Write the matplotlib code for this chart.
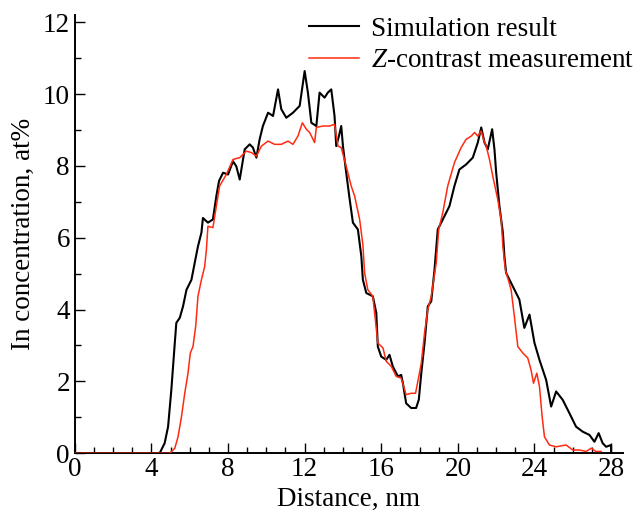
import matplotlib
matplotlib.use("Agg")
import matplotlib.pyplot as plt
from matplotlib.ticker import MultipleLocator

plt.rcParams['font.family'] = ['Liberation Serif', 'DejaVu Serif']
plt.rcParams['mathtext.fontset'] = 'custom'
plt.rcParams['mathtext.rm'] = 'Liberation Serif'
plt.rcParams['mathtext.it'] = 'Liberation Serif:italic'

# simulation result (black)
sim_x = [0.0, 4.43, 4.69, 4.87, 5.04, 5.13, 5.22, 5.30, 5.48, 5.65, 5.83, 6.09, 6.26, 6.43,
         6.61, 6.69, 6.95, 7.21, 7.39, 7.53, 7.74, 8.0, 8.26, 8.43, 8.61, 8.87, 9.13, 9.30,
         9.48, 9.65, 9.82, 10.09, 10.35, 10.61, 10.78, 11.04, 11.39, 11.74, 12.0, 12.17,
         12.35, 12.61, 12.78, 13.04, 13.21, 13.39, 13.56, 13.65, 13.79, 13.91, 14.0, 14.17,
         14.35, 14.52, 14.78, 14.96, 15.04, 15.22, 15.56, 15.74, 15.82, 16.0, 16.26, 16.43,
         16.6, 16.87, 17.04, 17.13, 17.30, 17.56, 17.82, 17.96, 18.09, 18.26, 18.43, 18.61,
         18.78, 18.95, 19.30, 19.56, 19.82, 20.08, 20.43, 20.78, 21.04, 21.22, 21.39, 21.56,
         21.79, 21.91, 22.0, 22.17, 22.35, 22.43, 22.52, 22.78, 23.21, 23.47, 23.74, 24.0,
         24.26, 24.61, 24.87, 25.13, 25.47, 25.82, 26.17, 26.52, 26.87, 27.13, 27.35, 27.56,
         27.74, 28.0, 28.0]
sim_y = [0.0, 0.0, 0.28, 0.74, 1.77, 2.42, 3.07, 3.63, 3.77, 4.09, 4.55, 4.83, 5.30, 5.76,
         6.14, 6.55, 6.42, 6.51, 7.16, 7.58, 7.81, 7.76, 8.13, 7.99, 7.62, 8.46, 8.60, 8.51,
         8.23, 8.74, 9.11, 9.48, 9.39, 10.13, 9.58, 9.34, 9.48, 9.67, 10.64, 10.04,
         9.20, 9.11, 10.04, 9.90, 10.04, 10.13, 9.39, 8.55, 8.83, 9.11, 8.55, 7.81,
         7.07, 6.42, 6.23, 5.48, 4.83, 4.46, 4.37, 3.91, 2.97, 2.69, 2.60, 2.74,
         2.42, 2.14, 2.18, 1.95, 1.39, 1.26, 1.26, 1.49, 2.23, 3.07, 4.09, 4.23,
         5.11, 6.23, 6.60, 6.88, 7.44, 7.90, 8.04, 8.23, 8.65, 9.07, 8.65, 8.46,
         9.02, 8.46, 7.81, 6.88, 6.14, 5.48, 5.02, 4.74, 4.28, 3.49, 3.86, 3.07,
         2.60, 2.04, 1.30, 1.72, 1.49, 1.12, 0.74, 0.60, 0.51, 0.32, 0.56, 0.28,
         0.18, 0.23, 0.0]

# Z-contrast measurement (red)
meas_x = [0.0, 4.96, 5.22, 5.39, 5.57, 5.74, 5.91, 6.03, 6.17, 6.31, 6.43, 6.61, 6.78, 6.87,
          6.95, 7.21, 7.39, 7.56, 7.91, 8.26, 8.61, 8.95, 9.22, 9.48, 9.74, 10.09, 10.43,
          10.78, 11.13, 11.39, 11.65, 11.88, 12.09, 12.26, 12.52, 12.61, 12.95, 13.30, 13.56,
          13.74, 13.91, 14.17, 14.43, 14.61, 14.87, 15.04, 15.13, 15.30, 15.56, 15.82, 16.09,
          16.26, 16.52, 16.78, 17.04, 17.30, 17.56, 17.79, 17.91, 18.09, 18.26, 18.43, 18.61,
          18.87, 19.0, 19.21, 19.47, 19.82, 20.17, 20.43, 20.70, 20.87, 21.04, 21.22, 21.34,
          21.48, 21.65, 21.82, 22.08, 22.26, 22.35, 22.48, 22.78, 22.95, 23.13, 23.39, 23.65,
          23.82, 23.95, 24.12, 24.26, 24.40, 24.52, 24.78, 25.13, 25.65, 26.0, 26.35, 26.7,
          26.96, 27.2, 27.48]
meas_y = [0.0, 0.0, 0.14, 0.46, 1.02, 1.67, 2.23, 2.79, 2.97, 3.53, 4.37, 4.83, 5.20, 5.67,
          6.32, 6.28, 6.88, 7.44, 7.76, 8.18, 8.23, 8.41, 8.37, 8.27, 8.55, 8.69, 8.60,
          8.60, 8.69, 8.60, 8.83, 9.20, 9.02, 8.93, 8.65, 9.07, 9.11, 9.11, 9.16,
          8.55, 8.51, 7.99, 7.44, 7.16, 6.51, 5.81, 5.02, 4.55, 4.37, 3.07, 2.93,
          2.56, 2.42, 2.14, 2.09, 1.63, 1.67, 1.67, 2.0, 2.51, 3.35, 4.0, 4.37,
          5.30, 6.23, 6.69, 7.44, 8.09, 8.51, 8.74, 8.83, 8.93, 8.83, 8.97, 8.74,
          8.55, 8.18, 7.72, 7.07, 6.51, 5.76, 5.11, 4.55, 3.81, 2.97, 2.79, 2.65,
          2.32, 1.95, 2.23, 1.86, 1.02, 0.46, 0.23, 0.18, 0.23, 0.09, 0.09, 0.05,
          0.14, 0.05, 0.05]

fig = plt.figure(figsize=(6.34, 5.18), dpi=100)
ax = fig.add_axes([0.118, 0.125, 0.864, 0.846])

ax.plot(sim_x, sim_y, color='black', lw=1.5, label='Simulation result', zorder=2)
ax.plot(meas_x, meas_y, color='#ff2a10', lw=1.1, label='$Z$-contrast measurement', zorder=3)

ax.set_xlim(0, 28.6)
ax.set_ylim(0, 12.2)
ax.xaxis.set_major_locator(MultipleLocator(4))
ax.xaxis.set_minor_locator(MultipleLocator(1))
ax.yaxis.set_major_locator(MultipleLocator(2))
ax.yaxis.set_minor_locator(MultipleLocator(1))

for s in ['top', 'right']:
    ax.spines[s].set_visible(False)
for s in ['left', 'bottom']:
    ax.spines[s].set_linewidth(1.4)
ax.tick_params(which='both', direction='in', labelsize=19.5, width=1.0)
ax.tick_params(which='major', length=7)
ax.tick_params(which='minor', length=4.5)
ax.tick_params(axis='x', pad=3)

ax.set_xlabel('Distance, nm', fontsize=19.5, labelpad=3)
ax.set_ylabel('In concentration, at%', fontsize=19.5, labelpad=5)

fig.legend(loc='upper right', bbox_to_anchor=(1.0, 0.968), frameon=False, fontsize=19.5,
           handlelength=1.85, handletextpad=0.45, labelspacing=0.25, borderpad=0.0,
           borderaxespad=0.0)

fig.savefig('out.png', dpi=100)
